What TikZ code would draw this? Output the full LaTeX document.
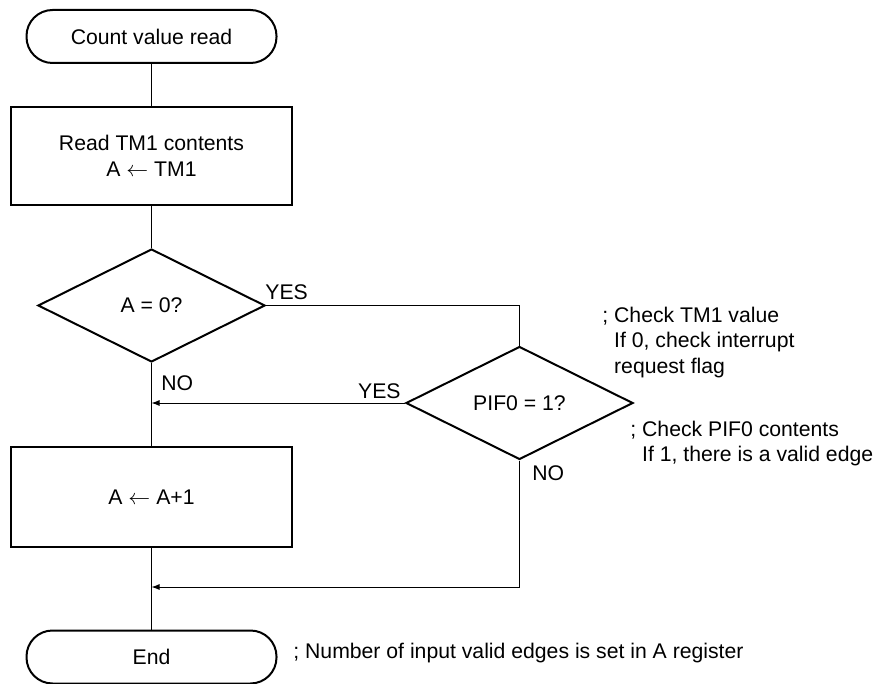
\documentclass[tikz,border=0pt]{standalone}
\usepackage{fontspec}
\setmainfont{Liberation Sans}
\usetikzlibrary{shapes.geometric,arrows.meta}
\begin{document}
\begin{tikzpicture}[x=0.5pt,y=-0.5pt,
  font=\fontsize{10.6}{13}\selectfont,
  terminal/.style={draw, line width=1pt, rounded corners=13pt, minimum width=125pt, minimum height=26.5pt, inner sep=0},
  procbox/.style={draw, line width=1pt, minimum width=140.5pt, minimum height=49pt, align=center, inner sep=0},
  decision/.style={draw, line width=1pt, diamond, aspect=2, minimum width=113.5pt, minimum height=56.5pt, inner sep=0},
  conn/.style={line width=0.5pt},
  arr/.style={conn, -{Latex[length=4pt,width=3pt]}},
  lbl/.style={inner sep=0},
  note/.style={inner sep=0, align=left, anchor=west, font=\fontsize{10.6}{12.8}\selectfont}]
\useasboundingbox (0,0) rectangle (878,684);
\node[terminal] (start) at (151.5,36.5) {Count value read};
\node[procbox] (read) at (151.5,156) {Read TM1 contents\\A $\leftarrow$ TM1};
\node[decision] (d1) at (151.5,305.5) {A = 0?};
\node[decision] (d2) at (519.5,403) {PIF0 = 1?};
\node[procbox, minimum height=50pt] (inc) at (151.5,497) {A $\leftarrow$ A+1};
\node[terminal] (end) at (151.5,657) {End};
\coordinate (j1) at (151.5,403);
\coordinate (j2) at (151.5,587);

\draw[conn] (start.south) -- (read.north);
\draw[conn] (read.south) -- (d1.north);
\draw[conn] (d1.east) -| (d2.north);
\draw[conn] (d1.south) -- (inc.north);
\draw[arr] (d2.west) -- (j1);
\draw[conn] (inc.south) -- (end.north);
\draw[arr] (d2.south) |- (j2);

\node[lbl, anchor=west] (yes1) at (265,292) {YES};
\node[lbl, anchor=west] (no1) at (161,383) {NO};
\node[lbl, anchor=east] (yes2) at (401,391) {YES};
\node[lbl, anchor=west] (no2) at (532,473) {NO};

\node[note] (n1) at (602,342.5) {; Check TM1 value\\\phantom{; }If 0, check interrupt\\\phantom{; }request flag};
\node[note] (n2) at (630,443.5) {; Check PIF0 contents\\\phantom{; }If 1, there is a valid edge};
\node[note] (n3) at (293,653) {; Number of input valid edges is set in A register};
\end{tikzpicture}
\end{document}
